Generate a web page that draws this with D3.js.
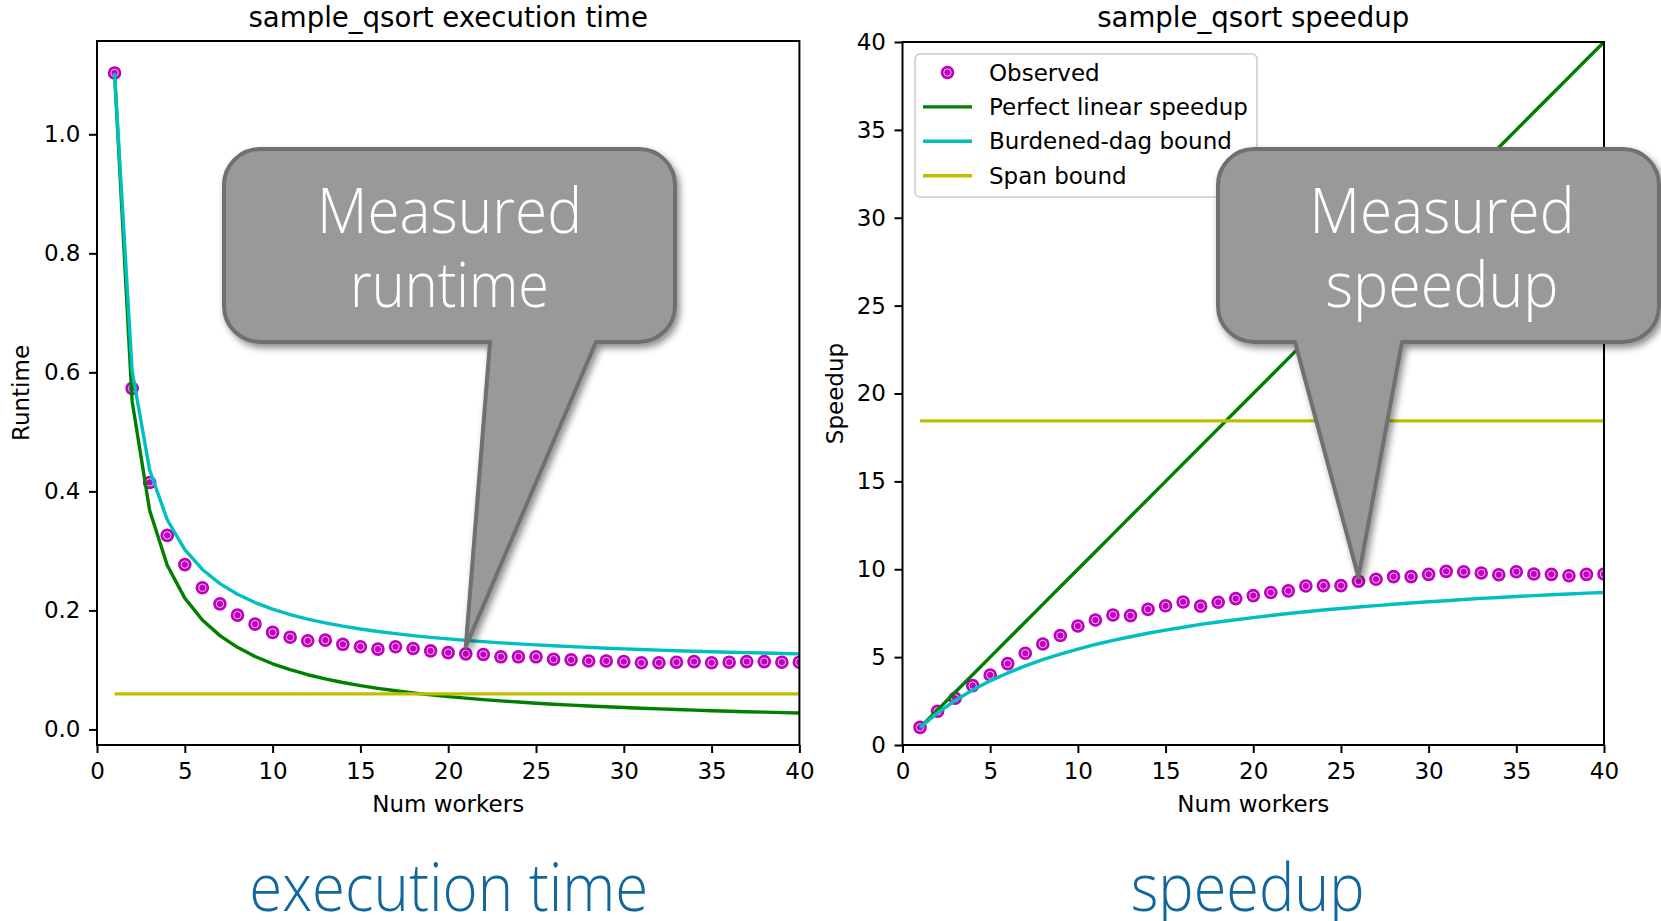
<!DOCTYPE html>
<html>
<head>
<meta charset="utf-8">
<script src="https://cdn.jsdelivr.net/npm/d3@7"></script>
<style>
  html, body { margin: 0; padding: 0; background: #fff; }
  svg { display: block; }
</style>
</head>
<body>
<svg id="chart" width="1661" height="921"></svg>
<script>
// worker counts on the x axis
const workers = d3.range(1, 41);

// left panel: runtime (seconds)
const observedRuntime = [
  1.103, 0.573, 0.415, 0.326, 0.277, 0.238, 0.211, 0.192, 0.177, 0.163,
  0.155, 0.149, 0.150, 0.143, 0.139, 0.135, 0.139, 0.136, 0.132, 0.129,
  0.127, 0.126, 0.122, 0.122, 0.122, 0.118, 0.117, 0.115, 0.115, 0.114,
  0.112, 0.112, 0.113, 0.114, 0.112, 0.113, 0.114, 0.114, 0.113, 0.113
];
const perfectRuntime = [
  1.103, 0.5515, 0.3677, 0.2758, 0.2206, 0.1838, 0.1576, 0.1379, 0.1226, 0.1103,
  0.1003, 0.0919, 0.0848, 0.0788, 0.0735, 0.0689, 0.0649, 0.0613, 0.0581, 0.0552,
  0.0525, 0.0501, 0.0480, 0.0460, 0.0441, 0.0424, 0.0409, 0.0394, 0.0380, 0.0368,
  0.0356, 0.0345, 0.0334, 0.0324, 0.0315, 0.0306, 0.0298, 0.0290, 0.0283, 0.0276
];
const burdenedRuntime = [
  1.103, 0.6025, 0.4357, 0.3523, 0.3022, 0.2688, 0.2450, 0.2271, 0.2132, 0.2021,
  0.1930, 0.1854, 0.1790, 0.1735, 0.1687, 0.1646, 0.1609, 0.1576, 0.1547, 0.1521,
  0.1497, 0.1475, 0.1455, 0.1437, 0.1420, 0.1405, 0.1391, 0.1378, 0.1365, 0.1354,
  0.1343, 0.1333, 0.1323, 0.1314, 0.1306, 0.1298, 0.1291, 0.1283, 0.1277, 0.1270
];
const spanRuntime = 0.0598;

// right panel: speedup
const observedSpeedup = [
  1.00, 1.92, 2.66, 3.38, 3.98, 4.63, 5.22, 5.75, 6.23, 6.77,
  7.11, 7.40, 7.36, 7.72, 7.92, 8.14, 7.90, 8.12, 8.33, 8.50,
  8.68, 8.77, 9.05, 9.07, 9.07, 9.32, 9.43, 9.58, 9.58, 9.71,
  9.88, 9.86, 9.79, 9.69, 9.86, 9.73, 9.71, 9.63, 9.71, 9.73
];
const perfectSpeedup = [
  1, 2, 3, 4, 5, 6, 7, 8, 9, 10, 11, 12, 13, 14, 15, 16, 17, 18, 19, 20,
  21, 22, 23, 24, 25, 26, 27, 28, 29, 30, 31, 32, 33, 34, 35, 36, 37, 38, 39, 40
];
const burdenedSpeedup = [
  1.00, 1.83, 2.53, 3.13, 3.65, 4.10, 4.50, 4.86, 5.17, 5.46,
  5.72, 5.95, 6.16, 6.36, 6.54, 6.70, 6.86, 7.00, 7.13, 7.25,
  7.37, 7.48, 7.58, 7.68, 7.77, 7.85, 7.93, 8.01, 8.08, 8.15,
  8.21, 8.28, 8.34, 8.39, 8.45, 8.50, 8.55, 8.59, 8.64, 8.68
];
const spanSpeedup = 18.44;

const xTicks = [0, 5, 10, 15, 20, 25, 30, 35, 40];
const runtimeTicks = [0.0, 0.2, 0.4, 0.6, 0.8, 1.0];
const speedupTicks = [0, 5, 10, 15, 20, 25, 30, 35, 40];
const legendLabels = ["Observed", "Perfect linear speedup", "Burdened-dag bound", "Span bound"];

const COLORS = { obs: "#bf00bf", perfect: "#007f00", burdened: "#00bfbf", span: "#bfbf00" };
const FONT = "'DejaVu Sans', sans-serif";
const SLIDE_FONT = "'Open Sans', 'Noto Sans', sans-serif";
const LW = 3.4;

const svg = d3.select("#chart");
const defs = svg.append("defs");
defs.append("filter")
  .attr("id", "shadow")
  .attr("x", "-10%").attr("y", "-10%").attr("width", "130%").attr("height", "130%")
  .append("feDropShadow")
  .attr("dx", 3).attr("dy", 4).attr("stdDeviation", 3.5)
  .attr("flood-color", "#000").attr("flood-opacity", 0.45);

function styleAxis(g) {
  g.attr("font-size", 23).attr("font-family", FONT);
  g.select(".domain").remove();
  g.selectAll(".tick line").attr("stroke", "#000").attr("stroke-width", 2);
  g.selectAll(".tick text").attr("fill", "#000");
}

function marker(sel) {
  sel.append("circle").attr("r", 6.8).attr("fill", COLORS.obs);
  sel.append("circle").attr("r", 3.7).attr("fill", "none")
    .attr("stroke", "#fff").attr("stroke-width", 1).attr("stroke-opacity", 0.75);
}

function drawPanel(cfg) {
  const x = d3.scaleLinear().domain([0, 40]).range([cfg.left, cfg.right]);
  const y = d3.scaleLinear().domain(cfg.yDomain).range([cfg.bottom, cfg.top]);
  const g = svg.append("g");

  defs.append("clipPath").attr("id", cfg.id + "-clip")
    .append("rect")
    .attr("x", cfg.left).attr("y", cfg.top)
    .attr("width", cfg.right - cfg.left).attr("height", cfg.bottom - cfg.top);

  const plot = g.append("g").attr("clip-path", `url(#${cfg.id}-clip)`);

  plot.selectAll("g.obs")
    .data(d3.zip(workers, cfg.observed))
    .join("g")
    .attr("class", "obs")
    .attr("transform", (d) => `translate(${x(d[0])},${y(d[1])})`)
    .call(marker);

  const line = d3.line().x((d) => x(d[0])).y((d) => y(d[1]));
  const lines = [
    { pts: d3.zip(workers, cfg.perfect), color: COLORS.perfect },
    { pts: d3.zip(workers, cfg.burdened), color: COLORS.burdened },
    { pts: [[1, cfg.span], [40, cfg.span]], color: COLORS.span },
  ];
  for (const s of lines) {
    plot.append("path")
      .datum(s.pts)
      .attr("d", line)
      .attr("fill", "none")
      .attr("stroke", s.color)
      .attr("stroke-width", LW)
      .attr("stroke-linejoin", "round");
  }

  g.append("g")
    .attr("transform", `translate(0,${cfg.bottom})`)
    .call(d3.axisBottom(x).tickValues(xTicks).tickSize(8).tickSizeOuter(0).tickPadding(10))
    .call(styleAxis);

  g.append("g")
    .attr("transform", `translate(${cfg.left},0)`)
    .call(d3.axisLeft(y).tickValues(cfg.yTicks).tickFormat(cfg.yFormat)
      .tickSize(8).tickSizeOuter(0).tickPadding(8.5))
    .call(styleAxis);

  g.append("rect")
    .attr("x", cfg.left).attr("y", cfg.top)
    .attr("width", cfg.right - cfg.left).attr("height", cfg.bottom - cfg.top)
    .attr("fill", "none").attr("stroke", "#000").attr("stroke-width", 2);

  const cx = (cfg.left + cfg.right) / 2;
  g.append("text")
    .attr("x", cx).attr("y", 27)
    .attr("text-anchor", "middle")
    .attr("font-family", FONT).attr("font-size", 27.6)
    .text(cfg.title);

  g.append("text")
    .attr("x", cx).attr("y", 812)
    .attr("text-anchor", "middle")
    .attr("font-family", FONT).attr("font-size", 23)
    .text("Num workers");

  g.append("text")
    .attr("transform", `translate(${cfg.ylabelX},${(cfg.top + cfg.bottom) / 2}) rotate(-90)`)
    .attr("text-anchor", "middle")
    .attr("font-family", FONT).attr("font-size", 23)
    .text(cfg.ylabel);

  return { x, y, g };
}

// left: runtime with matplotlib-like 5% autoscale margin
const allRuntime = observedRuntime.concat(perfectRuntime, burdenedRuntime, [spanRuntime]);
const [rMin, rMax] = d3.extent(allRuntime);
const rPad = (rMax - rMin) * 0.05;

const left = drawPanel({
  id: "runtime",
  left: 97, right: 799.4, top: 41, bottom: 745,
  yDomain: [rMin - rPad, rMax + rPad],
  yTicks: runtimeTicks, yFormat: d3.format(".1f"),
  observed: observedRuntime, perfect: perfectRuntime,
  burdened: burdenedRuntime, span: spanRuntime,
  title: "sample_qsort execution time", ylabel: "Runtime", ylabelX: 29,
});

const right = drawPanel({
  id: "speedup",
  left: 902.5, right: 1604, top: 42, bottom: 745,
  yDomain: [0, 40],
  yTicks: speedupTicks, yFormat: d3.format("d"),
  observed: observedSpeedup, perfect: perfectSpeedup,
  burdened: burdenedSpeedup, span: spanSpeedup,
  title: "sample_qsort speedup", ylabel: "Speedup", ylabelX: 843,
});

// legend (right panel)
const legend = svg.append("g");
legend.append("rect")
  .attr("x", 915).attr("y", 54).attr("width", 342).attr("height", 143).attr("rx", 5)
  .attr("fill", "#fff").attr("fill-opacity", 0.8)
  .attr("stroke", "#cccccc").attr("stroke-width", 1.5);
legendLabels.forEach((label, i) => {
  const cy = 72.5 + i * 34.4;
  if (i === 0) {
    legend.append("g").attr("transform", `translate(947.5,${cy})`).call(marker);
  } else {
    const c = [null, COLORS.perfect, COLORS.burdened, COLORS.span][i];
    legend.append("line")
      .attr("x1", 923).attr("x2", 972).attr("y1", cy).attr("y2", cy)
      .attr("stroke", c).attr("stroke-width", LW);
  }
  legend.append("text")
    .attr("x", 989).attr("y", cy + 8)
    .attr("font-family", FONT).attr("font-size", 23)
    .text(label);
});

// callout shapes
function callout(box, base, tip, lines, textX) {
  const { x0, x1, y0, y1, r } = box;
  const p = d3.path();
  p.moveTo(x0 + r, y0);
  p.lineTo(x1 - r, y0);
  p.arcTo(x1, y0, x1, y0 + r, r);
  p.lineTo(x1, y1 - r);
  p.arcTo(x1, y1, x1 - r, y1, r);
  p.lineTo(base[1], y1);
  p.lineTo(tip[0], tip[1]);
  p.lineTo(base[0], y1);
  p.lineTo(x0 + r, y1);
  p.arcTo(x0, y1, x0, y1 - r, r);
  p.lineTo(x0, y0 + r);
  p.arcTo(x0, y0, x0 + r, y0, r);
  p.closePath();
  const g = svg.append("g");
  g.append("path")
    .attr("d", p.toString())
    .attr("fill", "#999999")
    .attr("stroke", "#6f6f6f")
    .attr("stroke-width", 4)
    .attr("stroke-linejoin", "round")
    .attr("filter", "url(#shadow)");
  lines.forEach((t, i) => {
    g.append("text")
      .attr("x", textX).attr("y", 232.7 + i * 74)
      .attr("text-anchor", "middle")
      .attr("font-family", SLIDE_FONT)
      .attr("font-weight", 300)
      .attr("font-size", 62)
      .attr("fill", "#fff")
      .attr("textLength", t.w).attr("lengthAdjust", "spacingAndGlyphs")
      .text(t.s);
  });
}

callout({ x0: 224, x1: 675, y0: 149, y1: 342, r: 36 }, [490, 596],
  [left.x(21), left.y(observedRuntime[20]) - 7],
  [{ s: "Measured", w: 265 }, { s: "runtime", w: 199 }], 449.5);

callout({ x0: 1218, x1: 1659, y0: 149, y1: 342, r: 36 }, [1295, 1402],
  [right.x(26), right.y(observedSpeedup[25]) - 4],
  [{ s: "Measured", w: 265 }, { s: "speedup", w: 233 }], 1442);

// captions below the panels
const captions = [
  { s: "execution time", x: 448.8, w: 399 },
  { s: "speedup", x: 1247.7, w: 234 },
];
svg.selectAll("text.caption")
  .data(captions)
  .join("text")
  .attr("class", "caption")
  .attr("x", (d) => d.x).attr("y", 911)
  .attr("text-anchor", "middle")
  .attr("font-family", SLIDE_FONT)
  .attr("font-weight", 300)
  .attr("font-size", 66)
  .attr("fill", "#11679c")
  .attr("textLength", (d) => d.w).attr("lengthAdjust", "spacingAndGlyphs")
  .text((d) => d.s);
</script>
</body>
</html>
